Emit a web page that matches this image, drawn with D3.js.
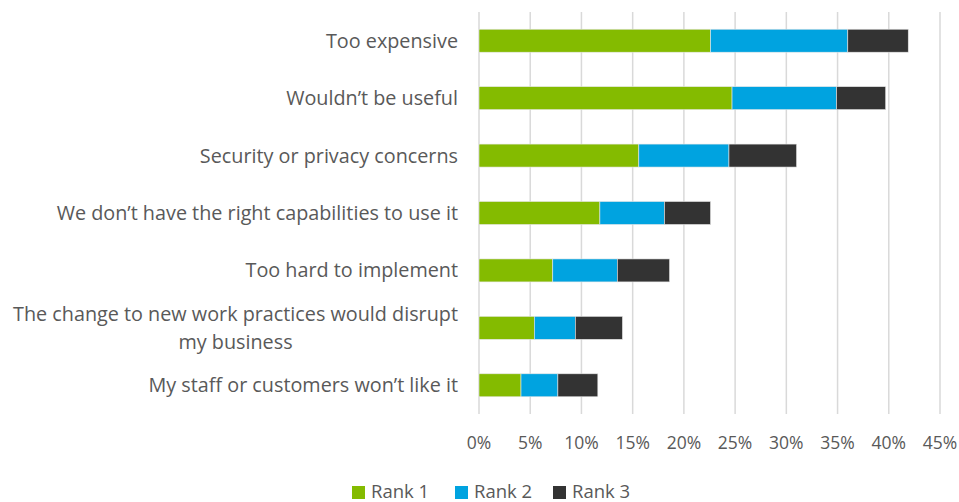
<!DOCTYPE html>
<html>
<head>
<meta charset="utf-8">
<script src="https://cdn.jsdelivr.net/npm/d3@7"></script>
<style>
  body { margin: 0; background: #fff; }
  text { font-family: "Open Sans", Lato, sans-serif; fill: #595959; }
</style>
</head>
<body>
<svg id="chart" width="959" height="502"></svg>
<script>
const categories = [
  "Too expensive",
  "Wouldn\u2019t be useful",
  "Security or privacy concerns",
  "We don\u2019t have the right capabilities to use it",
  "Too hard to implement",
  "The change to new work practices would disrupt|my business",
  "My staff or customers won\u2019t like it"
];
const seriesNames = ["Rank 1", "Rank 2", "Rank 3"];
const rank1 = [0.226, 0.247, 0.156, 0.118, 0.072, 0.054, 0.041];
const rank2 = [0.134, 0.102, 0.088, 0.063, 0.063, 0.040, 0.036];
const rank3 = [0.059, 0.048, 0.066, 0.045, 0.051, 0.046, 0.039];
const ticks = [0, 0.05, 0.10, 0.15, 0.20, 0.25, 0.30, 0.35, 0.40, 0.45];
const colors = ["#84bb00", "#00a3e0", "#333333"];

const svg = d3.select("#chart");

const x = d3.scaleLinear().domain([0, 0.45]).range([479, 940]);
const y = d3.scaleBand()
  .domain(categories)
  .range([12, 414])
  .paddingInner(0.6)
  .paddingOuter(0.3);

// gridlines
svg.append("g")
  .selectAll("line")
  .data(ticks)
  .join("line")
    .attr("x1", d => x(d))
    .attr("x2", d => x(d))
    .attr("y1", 12)
    .attr("y2", 414)
    .attr("stroke", "#d9d9d9")
    .attr("stroke-width", 1.5);

// stack the data
const rows = categories.map((c, i) => ({cat: c, r1: rank1[i], r2: rank2[i], r3: rank3[i]}));
const stack = d3.stack().keys(["r1", "r2", "r3"])(rows);

svg.append("g")
  .selectAll("g")
  .data(stack)
  .join("g")
    .attr("fill", (d, i) => colors[i])
  .selectAll("rect")
  .data(d => d)
  .join("rect")
    .attr("x", d => x(d[0]))
    .attr("y", d => y(d.data.cat))
    .attr("width", d => x(d[1]) - x(d[0]))
    .attr("height", y.bandwidth())
    .attr("stroke", "#e6e6e6")
    .attr("stroke-width", 0.6);

// category labels
const labels = svg.append("g")
  .selectAll("text")
  .data(categories)
  .join("text")
    .attr("text-anchor", "end")
    .attr("font-size", 19.8)
    .attr("y", d => y(d) + y.bandwidth() / 2);

labels.each(function(d) {
  const lines = d.split("|");
  const t = d3.select(this);
  lines.forEach((ln, k) => {
    t.append("tspan")
      .attr("x", 458)
      .attr("dy", k === 0 ? (0.35 - (lines.length - 1) * 0.7) + "em" : "1.4em")
      .attr("text-anchor", lines.length > 1 && k > 0 ? "middle" : "end")
      .text(ln);
  });
});

// centre second line of wrapped label under the first one
labels.filter(d => d.includes("|")).each(function() {
  const spans = d3.select(this).selectAll("tspan").nodes();
  const w = spans[0].getComputedTextLength();
  d3.select(spans[1]).attr("x", 458 - w / 2);
});

// x axis tick labels
svg.append("g")
  .selectAll("text")
  .data(ticks)
  .join("text")
    .attr("x", d => x(d))
    .attr("y", 449)
    .attr("text-anchor", "middle")
    .attr("font-size", 17.5)
    .text(d => d3.format(".0%")(d));

// legend
const legendX = [352, 455, 553];
const legend = svg.append("g")
  .selectAll("g")
  .data(seriesNames)
  .join("g")
    .attr("transform", (d, i) => `translate(${legendX[i]},486)`);

legend.append("rect")
  .attr("width", 13)
  .attr("height", 13)
  .attr("fill", (d, i) => colors[i]);

legend.append("text")
  .attr("x", 19)
  .attr("y", 12)
  .attr("font-size", 18.5)
  .text(d => d);
</script>
</body>
</html>
